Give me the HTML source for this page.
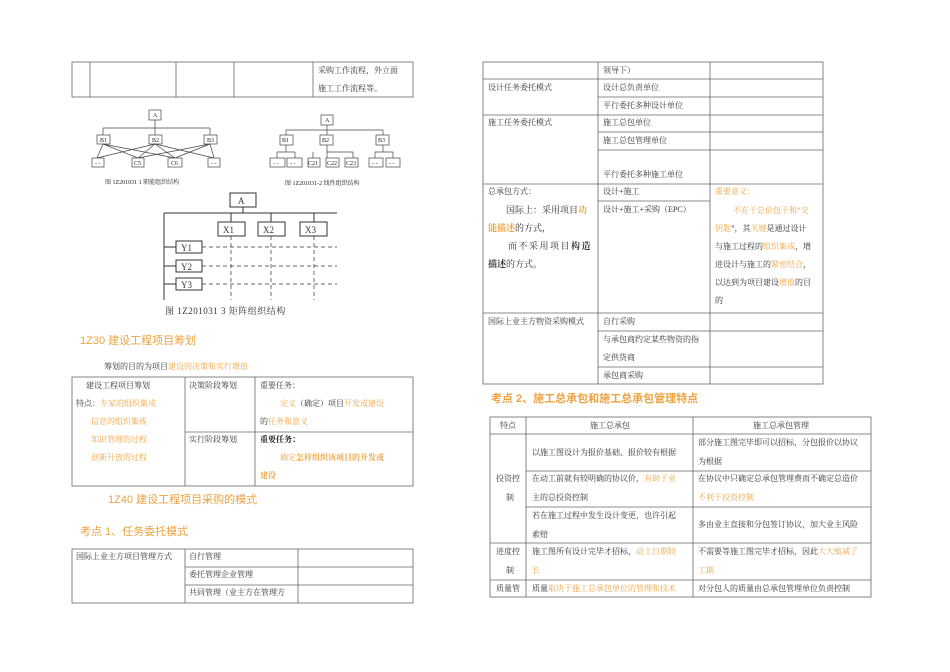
<!DOCTYPE html>
<html><head><meta charset="utf-8"><style>
body{margin:0;background:#fff;}
svg{display:block}
text{font-family:"Liberation Serif","Noto Serif CJK SC","Noto Sans CJK SC",serif;font-size:8px;fill:#333}
.o{fill:#eea33e}
.h{font-family:"Liberation Sans","Noto Sans CJK SC",sans-serif;fill:#eea33e;font-size:11px}
.b{font-weight:bold}
.s{font-size:6px;fill:#222}
.n{font-size:9px}
</style></head><body>
<svg width="950" height="672" viewBox="0 0 950 672" xmlns="http://www.w3.org/2000/svg">
<g stroke="#666" stroke-width="0.8" fill="none">
<rect x="72" y="62" width="341" height="35"/>
<line x1="90" y1="62" x2="90" y2="97"/><line x1="176" y1="62" x2="176" y2="97"/>
<line x1="234" y1="62" x2="234" y2="97"/><line x1="313" y1="62" x2="313" y2="97"/>
</g>
<text x="318" y="73">采购工作流程，外立面</text>
<text x="318" y="91">施工工作流程等。</text>

<!-- Fig 1 -->
<g stroke="#444" stroke-width="0.7" fill="#fff">
<rect x="149" y="110" width="12" height="10"/>
<line x1="155" y1="120" x2="155" y2="135"/><line x1="103" y1="128" x2="210" y2="128"/>
<line x1="103" y1="128" x2="103" y2="135"/><line x1="210" y1="128" x2="210" y2="135"/>
<rect x="97" y="135" width="13" height="9"/><rect x="149" y="135" width="13" height="9"/><rect x="204" y="135" width="13" height="9"/>
<g fill="none"><path d="M103 144L97 158M103 144L138 158M103 144L175 158M155 144L97 158M155 144L138 158M155 144L175 158M155 144L214 158M210 144L138 158M210 144L175 158M210 144L214 158"/></g>
<rect x="92" y="158" width="12" height="9"/><rect x="132" y="158" width="12" height="9"/><rect x="168" y="158" width="14" height="9"/><rect x="208" y="158" width="12" height="9"/>
</g>
<text class="s" x="152" y="142">B2</text><text class="s" x="207" y="142">B3</text>
<text class="s" x="153" y="117">A</text><text class="s" x="134" y="165">C5</text><text class="s" x="171" y="165">C6</text>
<text class="s" x="95" y="165">- -</text><text class="s" x="211" y="165">- -</text>
<text class="s" x="100" y="142">B1</text>
<text class="s" x="105" y="184">图 1Z201031 1   职能组织结构</text>

<!-- Fig 2 -->
<g stroke="#444" stroke-width="0.7" fill="#fff">
<rect x="321" y="115" width="12" height="10"/>
<line x1="327" y1="125" x2="327" y2="135"/><line x1="286" y1="130" x2="383" y2="130"/>
<line x1="286" y1="130" x2="286" y2="135"/><line x1="383" y1="130" x2="383" y2="135"/>
<rect x="280" y="135" width="13" height="10"/><rect x="320" y="135" width="13" height="10"/><rect x="376" y="135" width="13" height="10"/>
<line x1="286" y1="145" x2="286" y2="152"/><line x1="277" y1="152" x2="295" y2="152"/><line x1="277" y1="152" x2="277" y2="158"/><line x1="295" y1="152" x2="295" y2="158"/>
<line x1="327" y1="145" x2="327" y2="158"/><line x1="327" y1="152" x2="353" y2="152"/><line x1="353" y1="152" x2="353" y2="158"/><line x1="313" y1="152" x2="313" y2="158"/>
<line x1="383" y1="145" x2="383" y2="152"/><line x1="375" y1="152" x2="393" y2="152"/><line x1="375" y1="152" x2="375" y2="158"/><line x1="393" y1="152" x2="393" y2="158"/>
<rect x="270" y="158" width="15" height="9"/><rect x="287" y="158" width="15" height="9"/>
<rect x="308" y="158" width="12" height="9"/><rect x="326" y="158" width="13" height="9"/><rect x="345" y="158" width="13" height="9"/>
<rect x="369" y="158" width="14" height="9"/><rect x="386" y="158" width="14" height="9"/>
</g>
<text class="s" x="325" y="122">A</text><text class="s" x="282" y="142">B1</text><text class="s" x="322" y="142">B2</text><text class="s" x="378" y="142">B3</text>
<text class="s" x="308" y="165">C21</text><text class="s" x="327" y="165">C22</text><text class="s" x="346" y="165">C23</text>
<text class="s" x="273" y="165">- -</text><text class="s" x="290" y="165">- -</text><text class="s" x="372" y="165">- -</text><text class="s" x="389" y="165">- -</text>
<text class="s" x="285" y="185">图 1Z201031-2   线性组织结构</text>

<!-- Fig 3 -->
<g stroke="#333" stroke-width="1" fill="#fff">
<rect x="230" y="193" width="26" height="14"/>
<line x1="243" y1="207" x2="243" y2="213"/>
<line x1="164" y1="213" x2="337" y2="213"/>
<line x1="164" y1="213" x2="164" y2="300"/>
<line x1="231" y1="213" x2="231" y2="222"/><line x1="271" y1="213" x2="271" y2="222"/><line x1="314" y1="213" x2="314" y2="222"/>
<rect x="218" y="222" width="27" height="14"/><rect x="258" y="222" width="27" height="14"/><rect x="300" y="222" width="27" height="14"/>
<line x1="164" y1="247" x2="176" y2="247"/><line x1="164" y1="266" x2="176" y2="266"/><line x1="164" y1="284" x2="176" y2="284"/>
<rect x="176" y="241" width="26" height="12"/><rect x="176" y="260" width="26" height="12"/><rect x="176" y="278" width="26" height="12"/>
<g stroke-dasharray="4,3" stroke-width="0.7" fill="none">
<line x1="202" y1="247" x2="337" y2="247"/><line x1="202" y1="266" x2="337" y2="266"/><line x1="202" y1="284" x2="337" y2="284"/>
<line x1="231" y1="236" x2="231" y2="300"/><line x1="271" y1="236" x2="271" y2="300"/><line x1="314" y1="236" x2="314" y2="300"/>
</g></g>
<text class="n" x="238" y="204">A</text>
<text class="n" x="223" y="233">X1</text><text class="n" x="263" y="233">X2</text><text class="n" x="305" y="233">X3</text>
<text class="n" x="181" y="251">Y1</text><text class="n" x="181" y="270">Y2</text><text class="n" x="181" y="288">Y3</text>
<text x="165" y="314" style="font-size:9px;fill:#333;letter-spacing:0.5px">图 1Z201031 3     矩阵组织结构</text>

<!-- 1Z30 -->
<text class="h" x="80" y="344">1Z30 建设工程项目筹划</text>
<text x="104" y="369">筹划的目的为项目<tspan class="o">建设的决策和实行增值</tspan></text>
<g stroke="#666" stroke-width="0.8" fill="none">
<rect x="72" y="377" width="341" height="109"/>
<line x1="185" y1="377" x2="185" y2="486"/><line x1="255" y1="377" x2="255" y2="486"/>
<line x1="185" y1="432" x2="413" y2="432"/>
</g>
<text x="86" y="388">建设工程项目筹划</text>
<text x="76" y="406">特点：<tspan class="o">专家的组织集成</tspan></text>
<text class="o" x="91" y="424">信息的组织集成</text>
<text class="o" x="91" y="442">知识管理的过程</text>
<text class="o" x="91" y="460">创新开放的过程</text>
<text x="189" y="388">决策阶段筹划</text>
<text x="260" y="388">重要任务：</text>
<text x="280" y="406"><tspan class="o">定义</tspan>（确定）项目<tspan class="o">开发或建设</tspan></text>
<text x="260" y="424">的<tspan class="o">任务和意义</tspan></text>
<text x="189" y="442">实行阶段筹划</text>
<text class="b" x="260" y="442" style="fill:#111">重要任务：</text>
<text x="280" y="460"><tspan class="o">确定</tspan><tspan class="o b">怎样组织该项目的开发或</tspan></text>
<text class="o b" x="260" y="478">建设</text>

<text class="h" x="108" y="503">1Z40 建设工程项目采购的模式</text>
<text class="h" x="80" y="535">考点 1、任务委托模式</text>
<g stroke="#666" stroke-width="0.8" fill="none">
<rect x="72" y="549" width="341" height="54"/>
<line x1="185" y1="549" x2="185" y2="603"/><line x1="298" y1="549" x2="298" y2="603"/>
<line x1="185" y1="567" x2="413" y2="567"/><line x1="185" y1="585" x2="413" y2="585"/>
</g>
<text x="76" y="559">国际上业主方项目管理方式</text>
<text x="189" y="559">自行管理</text>
<text x="189" y="577">委托管理企业管理</text>
<text x="189" y="595">共同管理（业主方在管理方</text>

<!-- right table -->
<g stroke="#666" stroke-width="0.8" fill="none">
<rect x="483" y="62" width="340" height="322"/>
<line x1="598" y1="62" x2="598" y2="384"/><line x1="710" y1="62" x2="710" y2="384"/>
<line x1="483" y1="79" x2="823" y2="79"/><line x1="598" y1="97" x2="823" y2="97"/>
<line x1="483" y1="115" x2="823" y2="115"/><line x1="598" y1="132" x2="823" y2="132"/>
<line x1="598" y1="150" x2="823" y2="150"/><line x1="483" y1="184" x2="823" y2="184"/>
<line x1="598" y1="201" x2="710" y2="201"/><line x1="483" y1="313" x2="823" y2="313"/>
<line x1="598" y1="331" x2="823" y2="331"/><line x1="598" y1="367" x2="823" y2="367"/>
</g>
<text x="603" y="73">领导下）</text>
<text x="488" y="90">设计任务委托模式</text><text x="603" y="90">设计总负责单位</text>
<text x="603" y="108">平行委托多种设计单位</text>
<text x="488" y="125">施工任务委托模式</text><text x="603" y="125">施工总包单位</text>
<text x="603" y="143">施工总包管理单位</text>
<text x="603" y="177">平行委托多种施工单位</text>
<text x="488" y="194">总承包方式：</text><text x="603" y="194">设计+施工</text>
<text x="603" y="212">设计+施工+采购（EPC）</text>
<text class="n" x="506" y="213">国际上：采用项目<tspan class="o b">功</tspan></text>
<text class="n" x="488" y="231"><tspan class="o b">能描述</tspan>的方式，</text>
<text class="n" x="508" y="249" letter-spacing="1.5">而不采用项目<tspan class="b">构造</tspan></text>
<text class="n" x="488" y="267"><tspan class="b">描述</tspan>的方式。</text>
<text class="o" x="715" y="194">重要意义：</text>
<text class="o" x="733" y="213">不在于总价包干和“交</text>
<text x="715" y="231"><tspan class="o">钥匙</tspan>”，其<tspan class="o">关键</tspan>是通过设计</text>
<text x="715" y="249">与施工过程的<tspan class="o">组织集成</tspan>，增</text>
<text x="715" y="267">进设计与施工的<tspan class="o">紧密结合</tspan>，</text>
<text x="715" y="285">以达到为项目建设<tspan class="o">增值</tspan>的目</text>
<text x="715" y="303">的</text>
<text x="488" y="324">国际上业主方物资采购模式</text><text x="603" y="324">自行采购</text>
<text x="603" y="342">与承包商约定某些物资的指</text>
<text x="603" y="360">定供货商</text>
<text x="603" y="378">承包商采购</text>

<text class="h b" x="491" y="402">考点 2、施工总承包和施工总承包管理特点</text>
<g stroke="#666" stroke-width="0.8" fill="none">
<rect x="490" y="417" width="381" height="180"/>
<line x1="526" y1="417" x2="526" y2="597"/><line x1="693" y1="417" x2="693" y2="597"/>
<line x1="490" y1="434" x2="871" y2="434"/><line x1="526" y1="471" x2="871" y2="471"/>
<line x1="526" y1="507" x2="871" y2="507"/><line x1="490" y1="543" x2="871" y2="543"/>
<line x1="490" y1="580" x2="871" y2="580"/>
</g>
<text x="500" y="428">特点</text><text x="590" y="428">施工总承包</text><text x="753" y="428">施工总承包管理</text>
<text x="532" y="455">以施工图设计为报价基础、报价较有根据</text>
<text x="698" y="445">部分施工图完毕即可以招标，分包报价以协议</text>
<text x="698" y="464">为根据</text>
<text x="496" y="481">投资控</text><text x="506" y="500">制</text>
<text x="532" y="481">在动工前就有较明确的协议价，<tspan class="o">有助于业</tspan></text>
<text x="532" y="500">主的总投资控制</text>
<text x="698" y="481">在协议中只确定总承包管理费而不确定总造价</text>
<text class="o" x="698" y="500">不利于投资控制</text>
<text x="532" y="518">若在施工过程中发生设计变更，也许引起</text>
<text x="532" y="537">索赔</text>
<text x="698" y="527">多由业主直接和分包签订协议，加大业主风险</text>
<text x="496" y="554">进度控</text><text x="506" y="573">制</text>
<text x="532" y="554">施工图所有设计完毕才招标，<tspan class="o">动工日期较</tspan></text>
<text class="o" x="532" y="573">长</text>
<text x="698" y="554">不需要等施工图完毕才招标，因此<tspan class="o">大大缩减了</tspan></text>
<text class="o" x="698" y="573">工期</text>
<text x="496" y="591">质量管</text>
<text x="532" y="591">质量<tspan class="o">取决于施工总承包单位的管理和技术</tspan></text>
<text x="698" y="591">对分包人的质量由总承包管理单位负责控制</text>
</svg>
</body></html>
